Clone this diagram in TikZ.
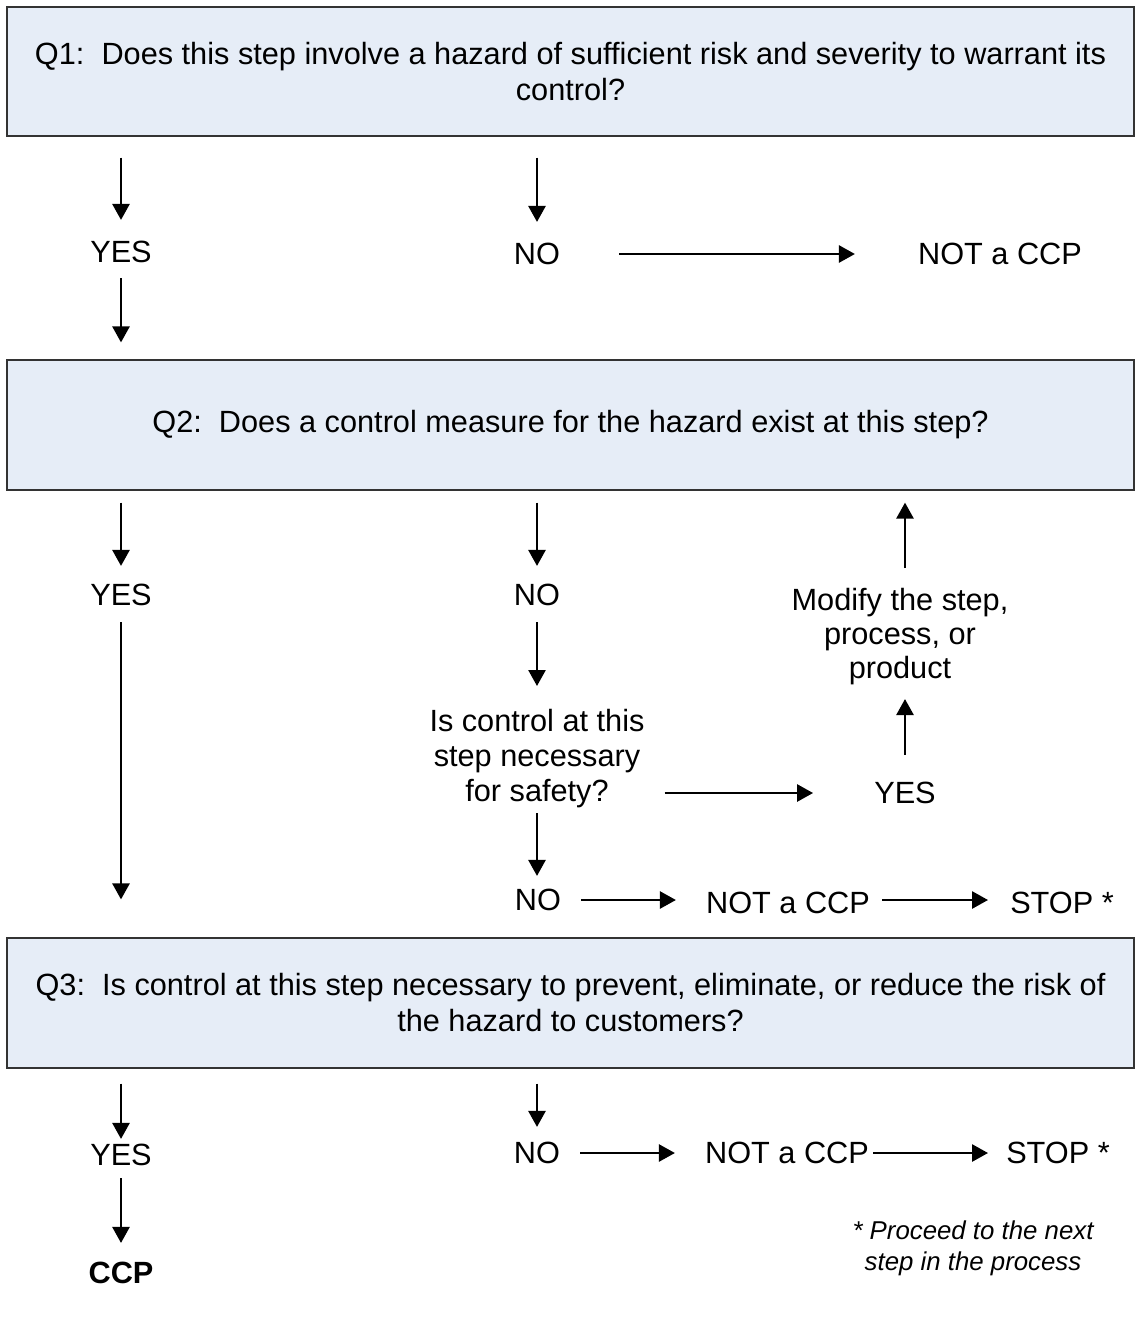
\documentclass[tikz,border=0pt]{standalone}
\usepackage{fontspec}
\setmainfont{Liberation Sans}
\usetikzlibrary{arrows.meta, positioning, calc}
\definecolor{boxblue}{RGB}{230,237,247}

\begin{document}
\begin{tikzpicture}[x=1pt, y=-1pt,
    qbox/.style={draw=black!80, line width=1.2pt, fill=boxblue, minimum width=1127pt,
      minimum height=130pt, text width=1095pt, align=flush center, inner sep=0pt,
      font=\fontsize{30.7}{36}\selectfont},
    lbl/.style={inner sep=0pt, font=\fontsize{30.7}{35}\selectfont},
    flow/.style={-{Triangle[length=16pt, width=17pt]}, line width=2.6pt}]
  \useasboundingbox (0,0) rectangle (1136,1318);

  % question boxes
  \node[qbox, minimum height=129pt] (q1) at (570.5,71.5)
    {Q1:~~Does this step involve a hazard of sufficient risk and severity to warrant its control?};
  \node[qbox] (q2) at (570.5,425) {Q2:~~Does a control measure for the hazard exist at this step?};
  \node[qbox] (q3) at (570.5,1003)
    {Q3:~~Is control at this step necessary to prevent, eliminate, or reduce the risk of the hazard to customers?};

  % answers to Q1
  \node[lbl] (yes1) at (121,252) {YES};
  \node[lbl] (no1) at (537,254) {NO};
  \node[lbl] (notccp1) at (1000,254) {NOT a CCP};

  \draw[flow, shorten <=21pt, shorten >=21pt] (q1.south -| yes1) -- (yes1.north);
  \draw[flow, shorten <=15pt, shorten >=17pt] (yes1.south) -- (q2.north -| yes1);
  \draw[flow, shorten <=21pt, shorten >=21pt] (q1.south -| no1) -- (no1.north);
  \draw[flow, shorten <=59pt, shorten >=63pt] (no1.east) -- (notccp1.west);

  % answers to Q2
  \node[lbl] (yes2) at (121,595) {YES};
  \node[lbl] (no2) at (537,595) {NO};
  \node[lbl, align=center, anchor=north] (safety) at (537,709)
    {Is control at this\\step necessary\\for safety?};
  \node[lbl] (yes3) at (905,793) {YES};
  \node[lbl, align=center, anchor=north, font=\fontsize{30.7}{34}\selectfont] (modify) at (900,588)
    {Modify the step,\\process, or\\product};
  \node[lbl] (no3) at (538,900) {NO};
  \node[lbl] (notccp2) at (788,903) {NOT a CCP};
  \node[lbl] (stop1) at (1062,903) {STOP *};

  \draw[flow, shorten <=12pt, shorten >=18pt] (q2.south -| yes2) -- (yes2.north);
  \draw[flow, shorten <=16pt, shorten >=38pt] (yes2.south) -- (q3.north -| yes2);
  \draw[flow, shorten <=12pt, shorten >=18pt] (q2.south -| no2) -- (no2.north);
  \draw[flow, shorten <=16pt, shorten >=23pt] (no2.south) -- (safety.north);
  \draw[flow, shorten <=20pt, shorten >=61pt] (yes3 -| safety.east) -- (yes3.west);
  \draw[flow, shorten <=27pt, shorten >=14pt] (yes3.north) -- (modify.south -| yes3);
  \draw[flow, shorten <=20pt, shorten >=12pt] (modify.north -| yes3) -- (q2.south -| yes3);
  \draw[flow, shorten <=5pt, shorten >=13pt] (safety.south) -- (no3.north -| safety);
  \draw[flow, shorten <=20pt, shorten >=30pt] (no3.east) -- (notccp2.west |- no3.east);
  \draw[flow, shorten <=12pt, shorten >=22pt] (notccp2.east |- no3.east) -- (stop1.west |- no3.east);

  % answers to Q3
  \node[lbl] (yes4) at (121,1155) {YES};
  \node[lbl, font=\fontsize{30.7}{35}\selectfont\bfseries] (ccp) at (121,1273) {CCP};
  \node[lbl] (no4) at (537,1153) {NO};
  \node[lbl] (notccp3) at (787,1153) {NOT a CCP};
  \node[lbl] (stop2) at (1058,1153) {STOP *};

  \draw[flow, shorten <=15pt, shorten >=5pt] (q3.south -| yes4) -- (yes4.north);
  \draw[flow, shorten <=12pt, shorten >=19pt] (yes4.south) -- (ccp.north);
  \draw[flow, shorten <=15pt, shorten >=15pt] (q3.south -| no4) -- (no4.north);
  \draw[flow, shorten <=20pt, shorten >=30pt] (no4.east) -- (notccp3.west);
  \draw[flow, shorten <=4pt, shorten >=18pt] (notccp3.east) -- (stop2.west);

  % footnote
  \node[lbl, align=center, anchor=north, font=\fontsize{25.8}{31}\selectfont\itshape] (note) at (973,1221)
    {* Proceed to the next\\step in the process};
\end{tikzpicture}
\end{document}
